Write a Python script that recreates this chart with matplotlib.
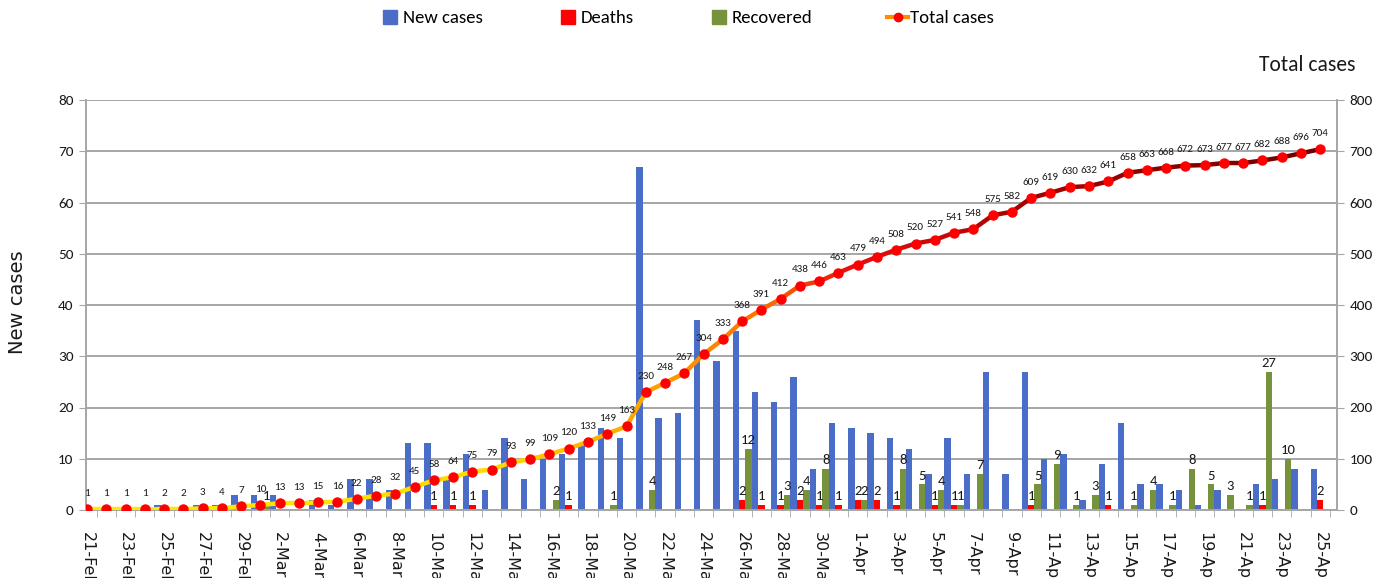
import numpy as np
import pandas as pd
import matplotlib
matplotlib.use('Agg')
import matplotlib.pyplot as plt
from matplotlib.collections import LineCollection
from matplotlib.colors import LinearSegmentedColormap
from matplotlib.lines import Line2D

# data, 21-Feb .. 25-Apr 2020
days = pd.date_range('2020-02-21', '2020-04-25')
date_labels = [f"{d.day}-{d.strftime('%b')}" for d in days]

total_cases = [1, 1, 1, 1, 2, 2, 3, 4, 7, 10, 13, 13, 15, 16, 22, 28, 32, 45, 58, 64,
               75, 79, 93, 99, 109, 120, 133, 149, 163, 230, 248, 267, 304, 333, 368,
               391, 412, 438, 446, 463, 479, 494, 508, 520, 527, 541, 548, 575, 582,
               609, 619, 630, 632, 641, 658, 663, 668, 672, 673, 677, 677, 682, 688,
               696, 704]
new_cases = [1, 0, 0, 0, 1, 0, 1, 1, 3, 3, 3, 0, 2, 1, 6, 6, 4, 13, 13, 6,
             11, 4, 14, 6, 10, 11, 13, 16, 14, 67, 18, 19, 37, 29, 35,
             23, 21, 26, 8, 17, 16, 15, 14, 12, 7, 14, 7, 27, 7,
             27, 10, 11, 2, 9, 17, 5, 5, 4, 1, 4, 0, 5, 6,
             8, 8]
deaths = [0, 0, 0, 0, 0, 0, 0, 0, 0, 0, 0, 0, 0, 0, 0, 0, 0, 0, 1, 1,
          1, 0, 0, 0, 0, 1, 0, 0, 0, 0, 0, 0, 0, 0, 2,
          1, 1, 2, 1, 1, 2, 2, 1, 0, 1, 1, 0, 0, 0,
          1, 0, 0, 0, 1, 0, 0, 0, 0, 0, 0, 0, 1, 0,
          0, 2]
recovered = [0, 0, 0, 0, 0, 0, 0, 0, 0, 1, 0, 0, 0, 0, 0, 0, 0, 0, 0, 0,
             0, 0, 0, 0, 2, 0, 0, 1, 0, 4, 0, 0, 0, 0, 12,
             0, 3, 4, 8, 0, 2, 0, 8, 5, 4, 1, 7, 0, 0,
             5, 9, 1, 3, 0, 1, 4, 1, 8, 5, 3, 1, 27, 10,
             0, 0]

calib = ['Carlito', 'Liberation Sans Narrow', 'DejaVu Sans']
plt.rcParams['font.family'] = ['DejaVu Sans']
grey = '#A6A6A6'
txt = '#1a1a1a'

fig = plt.figure(figsize=(13.86, 5.78), dpi=100)
ax = fig.add_axes([86/1386, 68/578, 1251/1386, 410/578])
ax2 = ax.twinx()

x = np.arange(len(days))
w = 1/3
ax.bar(x - w, new_cases, w, color='#4A6EC8', zorder=2)
ax.bar(x, deaths, w, color='#FF0000', zorder=2)
ax.bar(x + w, recovered, w, color='#76923C', zorder=2)

for i in x:
    if deaths[i]:
        ax.annotate(str(deaths[i]), (i, deaths[i]), xytext=(0, 2), textcoords='offset points',
                    ha='center', va='bottom', fontsize=10.5, family=calib, color=txt)
    if recovered[i]:
        ax.annotate(str(recovered[i]), (i + w, recovered[i]), xytext=(0, 2), textcoords='offset points',
                    ha='center', va='bottom', fontsize=10.5, family=calib, color=txt)

ax.set_xlim(-0.05, 64.87)
ax.set_ylim(0, 80)
ax.set_yticks(range(0, 81, 10))
ax2.set_ylim(0, 800)
ax2.set_yticks(range(0, 801, 100))

ax.set_axisbelow(True)
ax.yaxis.grid(True, color=grey, lw=1.4)

for a in (ax, ax2):
    a.spines['top'].set_visible(False)
    for s in ('left', 'right', 'bottom'):
        a.spines[s].set_color(grey)
        a.spines[s].set_linewidth(1.2)

ax.set_xticks(x[::2])
ax.set_xticklabels(date_labels[::2], rotation=-90, fontsize=11.5, color=txt)
ax.set_xticks(np.arange(0.5, 64.6, 1), minor=True)
ax.tick_params(axis='x', which='major', length=0, pad=16)
ax.tick_params(axis='x', which='minor', length=5, color=grey)
ax.tick_params(axis='y', length=5, color=grey, labelsize=11, labelcolor=txt, pad=4)
ax2.tick_params(axis='y', length=5, color=grey, labelsize=11, labelcolor=txt, pad=4)
for lab in ax.get_yticklabels() + ax2.get_yticklabels():
    lab.set_family(calib)

# total cases line, yellow -> orange -> red -> dark red
cmap = LinearSegmentedColormap.from_list('tc', [
    (0.0, '#FFEB00'), (0.33, '#FFD800'), (0.45, '#FFA200'), (0.55, '#FF7000'),
    (0.62, '#E81010'), (0.76, '#A80000'), (1.0, '#700000')])
pts = np.column_stack([x, total_cases])
segs = np.stack([pts[:-1], pts[1:]], axis=1)
lc = LineCollection(segs, colors=cmap(np.linspace(0, 1, len(segs))), linewidths=3.2,
                    capstyle='round', zorder=3)
ax2.add_collection(lc)
ax2.plot(x, total_cases, ls='none', marker='o', ms=6.5, color='#FF0000', zorder=4)
for i in x:
    ax2.annotate(str(total_cases[i]), (i, total_cases[i]), xytext=(0, 8), textcoords='offset points',
                 ha='center', va='bottom', fontsize=8, family=calib, color=txt)

fig.text(18/1386, 1 - 302/578, 'New cases', rotation=90, ha='center', va='center',
         fontsize=14, color=txt)
fig.text(1307/1386, 1 - 65/578, 'Total cases', ha='center', va='center',
         fontsize=15.5, family=calib, color=txt)

handles = [Line2D([], [], ls='none', marker='s', ms=10, color='#4A6EC8'),
           Line2D([], [], ls='none', marker='s', ms=10, color='#FF0000'),
           Line2D([], [], ls='none', marker='s', ms=10, color='#76923C'),
           Line2D([], [], color='#FF8C00', lw=3, marker='o', ms=6, mfc='#FF0000', mec='#FF0000')]
fig.legend(handles, ['New cases', 'Deaths', 'Recovered', 'Total cases'], loc='center',
           bbox_to_anchor=(687/1386, 1 - 18/578), ncol=4, frameon=False,
           prop={'family': calib, 'size': 13.5}, columnspacing=4.0, handletextpad=0.12,
           handlelength=1.1)

fig.savefig('out.png', dpi=100)
